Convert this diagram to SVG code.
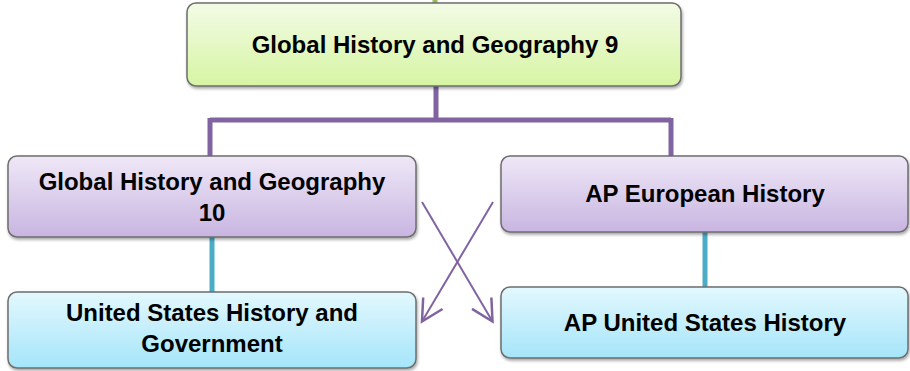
<svg xmlns="http://www.w3.org/2000/svg" width="910" height="371" viewBox="0 0 910 371">
<defs>
<linearGradient id="gGreen" x1="0" y1="0" x2="0" y2="1"><stop offset="0" stop-color="#f3fbe6"/><stop offset="1" stop-color="#d6f5a3"/></linearGradient>
<linearGradient id="gPurple" x1="0" y1="0" x2="0" y2="1"><stop offset="0" stop-color="#efe8f7"/><stop offset="1" stop-color="#c8b5e1"/></linearGradient>
<linearGradient id="gBlue" x1="0" y1="0" x2="0" y2="1"><stop offset="0" stop-color="#e3f8fe"/><stop offset="1" stop-color="#a5e5f9"/></linearGradient>
<filter id="sh" x="-5%" y="-10%" width="110%" height="125%"><feDropShadow dx="1" dy="2" stdDeviation="1.5" flood-color="#000" flood-opacity="0.35"/></filter>
<marker id="arr" markerUnits="userSpaceOnUse" markerWidth="30" markerHeight="30" refX="0" refY="0" viewBox="-20 -12 22 24" orient="auto" overflow="visible">
<path d="M-17,-9 L0,0 L-17,9" fill="none" stroke="#8064a2" stroke-width="2"/>
</marker>
<style>
.box{stroke:#6e6e6e;stroke-width:1.5;filter:url(#sh)}
.t{font-family:"Liberation Sans",Arial,sans-serif;font-weight:bold;font-size:24px;fill:#000;text-anchor:middle}
.pl{stroke:#8064a2;stroke-width:5;fill:none}
.bl{stroke:#4bacc6;stroke-width:5;fill:none}
.x{stroke:#8064a2;stroke-width:2;fill:none;marker-end:url(#arr)}
</style>
</defs>
<g id="connectors">
<line x1="435" y1="0" x2="435" y2="4" stroke="#9bbb59" stroke-width="5"/>
<path class="pl" d="M436,86 V120 M210,120 H671 M210,118 V156 M671,118 V156"/>
<line class="bl" x1="212" y1="237" x2="212" y2="292"/>
<line class="bl" x1="705" y1="232" x2="705" y2="287"/>
<line class="x" x1="422" y1="202" x2="492.5" y2="321.5"/>
<line class="x" x1="493" y1="202" x2="422" y2="321.5"/>
</g>
<g id="node-gh9">
<rect class="box" x="187" y="3" width="494" height="83" rx="9" fill="url(#gGreen)"/>
<text class="t" x="435" y="53">Global History and Geography 9</text>
</g>
<g id="node-gh10">
<rect class="box" x="8" y="156" width="408" height="81" rx="9" fill="url(#gPurple)"/>
<text class="t" x="212" y="190">Global History and Geography</text>
<text class="t" x="212" y="221">10</text>
</g>
<g id="node-apeuro">
<rect class="box" x="501" y="156" width="407" height="76" rx="9" fill="url(#gPurple)"/>
<text class="t" x="705" y="202">AP European History</text>
</g>
<g id="node-ushg">
<rect class="box" x="8" y="292" width="408" height="76" rx="9" fill="url(#gBlue)"/>
<text class="t" x="212" y="321">United States History and</text>
<text class="t" x="212" y="352">Government</text>
</g>
<g id="node-apus">
<rect class="box" x="501" y="287" width="407" height="71" rx="9" fill="url(#gBlue)"/>
<text class="t" x="705" y="331">AP United States History</text>
</g>
</svg>
